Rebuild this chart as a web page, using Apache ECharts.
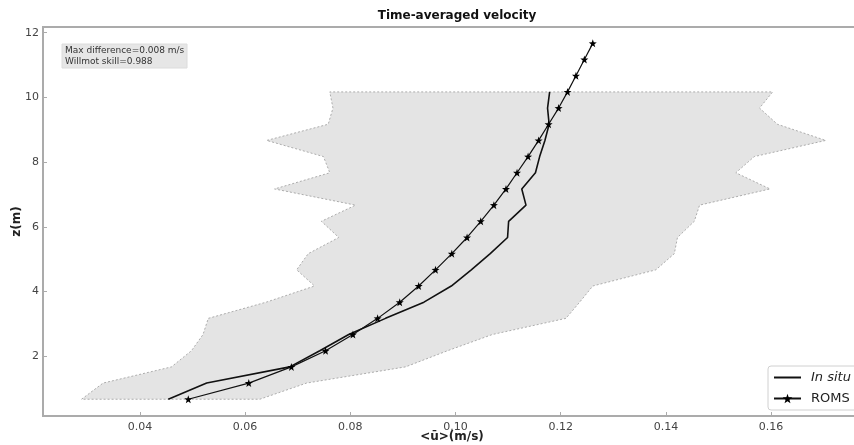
<!DOCTYPE html>
<html>
<head>
<meta charset="utf-8">
<script src="https://cdn.jsdelivr.net/npm/echarts@6/dist/echarts.min.js"></script>
<style>
  html, body { margin: 0; padding: 0; background: #fff; }
  #chart { width: 854px; height: 445px; }
</style>
</head>
<body>
<div id="chart"></div>
<script>
// depth levels of the observations (m)
const zLevels = [0.67, 1.17, 1.67, 2.17, 2.67, 3.17, 3.67, 4.17, 4.67, 5.17,
  5.67, 6.17, 6.67, 7.17, 7.67, 8.17, 8.67, 9.17, 9.67, 10.17]
// in situ time-averaged velocity (m/s)
const inSitu = [0.0454, 0.0527, 0.0685, 0.0742, 0.0797, 0.0867, 0.0940, 0.0992, 0.1030, 0.1066,
  0.1099, 0.1101, 0.1134, 0.1126, 0.1152, 0.1160, 0.1170, 0.1178, 0.1175, 0.1179]
// spread of in situ velocity (shaded envelope)
const spreadLow = [0.0289, 0.0330, 0.0460, 0.0498, 0.0520, 0.0530, 0.0640, 0.0732, 0.0698, 0.0720,
  0.0778, 0.0745, 0.0810, 0.0656, 0.0761, 0.0749, 0.0641, 0.0758, 0.0767, 0.0761]
const spreadHigh = [0.0628, 0.0717, 0.0905, 0.0985, 0.1070, 0.1210, 0.1236, 0.1261, 0.1381, 0.1416,
  0.1422, 0.1454, 0.1464, 0.1598, 0.1533, 0.1568, 0.1704, 0.1612, 0.1578, 0.1603]
// model levels and velocity
const zRoms = [0.67, 1.17, 1.67, 2.17, 2.67, 3.17, 3.67, 4.17, 4.67, 5.17, 5.67, 6.17,
  6.67, 7.17, 7.67, 8.17, 8.67, 9.17, 9.67, 10.17, 10.67, 11.17, 11.67]
const roms = [0.0492, 0.0607, 0.0688, 0.0753, 0.0805, 0.0852, 0.0894, 0.0930, 0.0962, 0.0993, 0.1022, 0.1048,
  0.1073, 0.1096, 0.1117, 0.1138, 0.1158, 0.1177, 0.1196, 0.1213, 0.1229, 0.1245, 0.1261]

const statLines = ['Max difference=0.008 m/s', 'Willmot skill=0.988']

const FONT = 'DejaVu Sans'
const SPINE = '#ababab'
const STAR = 'path://M0,-10L2.35,-3.24L9.51,-3.09L3.8,1.24L5.88,8.09L0,4L-5.88,8.09L-3.8,1.24L-9.51,-3.09L-2.35,-3.24Z'

// envelope polygon: up the low side, back down the high side
let envelope = []
zLevels.forEach((z, i) => envelope.push([spreadLow[i], z]))
for (let i = zLevels.length - 1; i >= 0; i--) envelope.push([spreadHigh[i], zLevels[i]])

let myChart = echarts.init(document.getElementById('chart'))
let option = {
  animation: false,
  title: {
    text: 'Time-averaged velocity',
    left: 452,
    textAlign: 'center',
    top: 5,
    textStyle: { fontFamily: FONT, fontSize: 12, fontWeight: 'bold', color: '#111' }
  },
  grid: {
    left: 43,
    top: 27,
    right: -7,
    bottom: 29,
    containLabel: false,
    outerBoundsMode: 'none',
    show: true,
    borderColor: SPINE,
    borderWidth: 2
  },
  legend: {
    orient: 'vertical',
    left: 768,
    top: 366,
    padding: [5, 30, 5, 5],
    itemWidth: 27,
    itemHeight: 12,
    itemGap: 8,
    backgroundColor: '#fff',
    borderColor: '#d0d0d0',
    borderWidth: 1,
    borderRadius: 3,
    data: [
      { name: 'In situ', itemStyle: { color: 'rgba(0,0,0,0)', borderWidth: 0 } },
      { name: 'ROMS' }
    ],
    formatter: name => (name === 'In situ' ? '{i|In situ}' : name),
    textStyle: {
      fontFamily: FONT,
      fontSize: 13,
      color: '#222',
      padding: [0, 0, 0, 5],
      rich: { i: { fontStyle: 'italic', fontFamily: FONT, fontSize: 13, color: '#222' } }
    }
  },
  graphic: [
    {
      type: 'rect',
      shape: { x: 62, y: 44, width: 125, height: 24 },
      style: { fill: '#e6e6e6', stroke: '#dcdcdc', lineWidth: 1 },
      z: 10
    },
    {
      type: 'text',
      left: 65,
      top: 45,
      style: {
        text: statLines.join('\n'),
        fontFamily: FONT,
        fontSize: 9,
        lineHeight: 11,
        fill: '#333'
      },
      z: 11
    }
  ],
  xAxis: {
    type: 'value',
    min: 0.02158,
    max: 0.17709,
    splitNumber: 8,
    name: '<ū>(m/s)',
    nameLocation: 'middle',
    nameGap: 15,
    nameMoveOverlap: false,
    nameTextStyle: { fontFamily: FONT, fontSize: 12, fontWeight: 'bold', color: '#222' },
    axisLine: { show: true, lineStyle: { color: SPINE, width: 2 } },
    axisTick: { show: true, inside: true, length: 4, lineStyle: { color: SPINE } },
    axisLabel: {
      showMinLabel: false,
      showMaxLabel: false,
      margin: 6,
      fontFamily: FONT,
      fontSize: 11,
      color: '#444',
      formatter: v => v.toFixed(2)
    },
    splitLine: { show: false }
  },
  yAxis: {
    type: 'value',
    min: 0.152,
    max: 12.176,
    splitNumber: 6,
    name: 'z(m)',
    nameLocation: 'middle',
    nameGap: 20,
    nameMoveOverlap: false,
    nameTextStyle: { fontFamily: FONT, fontSize: 12, fontWeight: 'bold', color: '#222' },
    axisLine: { show: true, lineStyle: { color: SPINE, width: 2 } },
    axisTick: { show: true, inside: true, length: 4, lineStyle: { color: SPINE } },
    axisLabel: {
      showMinLabel: false,
      showMaxLabel: false,
      margin: 4,
      fontFamily: FONT,
      fontSize: 11,
      color: '#444'
    },
    splitLine: { show: false }
  },
  series: [
    {
      name: 'spread',
      type: 'custom',
      silent: true,
      data: envelope,
      encode: { x: 0, y: 1 },
      renderItem: (params, api) => {
        if (params.dataIndex !== 0) return null
        let pts = envelope.map(p => api.coord(p))
        return {
          type: 'polygon',
          shape: { points: pts },
          style: { fill: '#e4e4e4', stroke: '#9a9a9a', lineWidth: 0.8, lineDash: [2, 2] }
        }
      },
      z: 1
    },
    {
      name: 'In situ',
      type: 'line',
      data: zLevels.map((z, i) => [inSitu[i], z]),
      showSymbol: false,
      symbol: 'none',
      lineStyle: { color: '#111', width: 1.6 },
      itemStyle: { color: '#111' },
      z: 3
    },
    {
      name: 'ROMS',
      type: 'line',
      data: zRoms.map((z, i) => [roms[i], z]),
      symbol: STAR,
      symbolSize: 8,
      lineStyle: { color: '#111', width: 1.2 },
      itemStyle: { color: '#000' },
      z: 4
    }
  ]
}
myChart.setOption(option, true)
</script>
</body>
</html>
